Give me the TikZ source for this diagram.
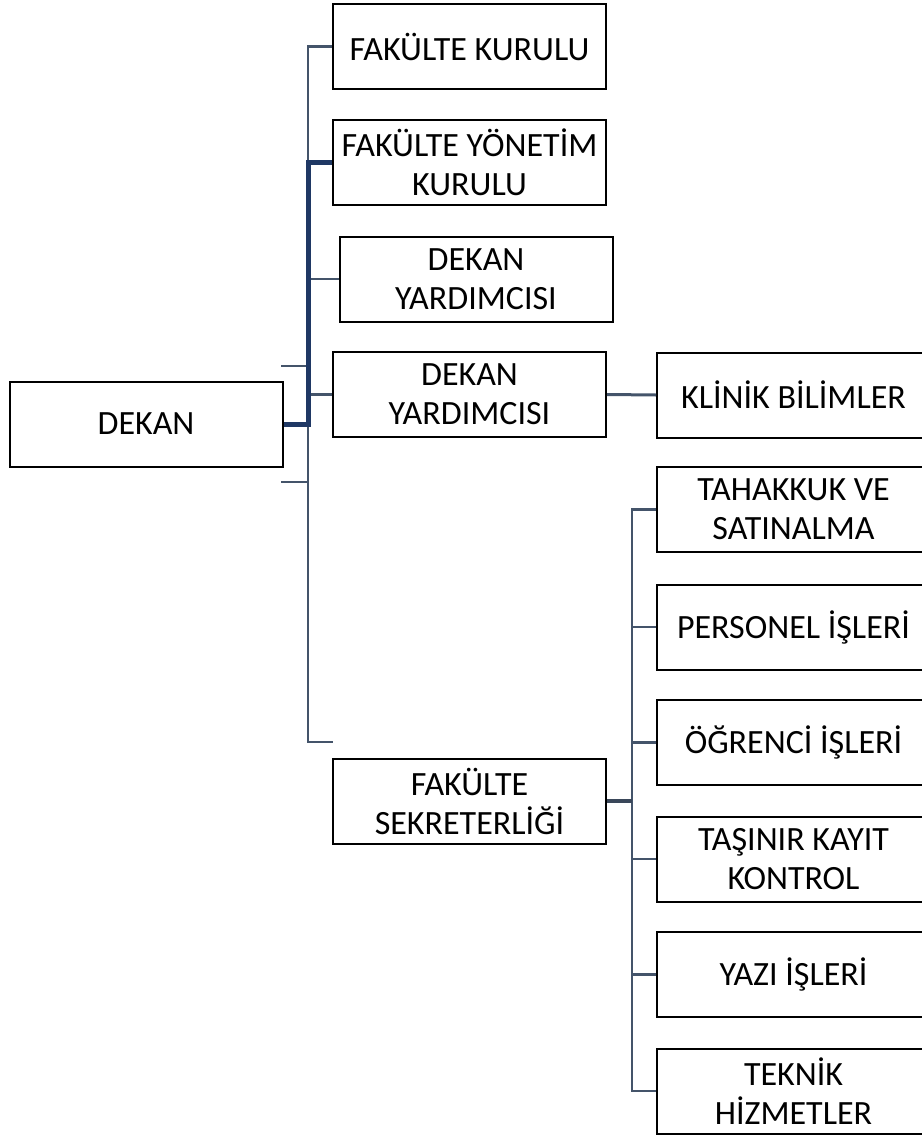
\documentclass[tikz,border=0pt]{standalone}
\usepackage{fontspec}
\setmainfont{Carlito}
\usepackage{tikz}
\usetikzlibrary{calc, math}
\definecolor{linkcolor}{RGB}{68,84,106}
\definecolor{trunkcolor}{RGB}{31,56,100}

\begin{document}
\begin{tikzpicture}[x=1pt, y=-1pt,
    orgbox/.style={draw=black, line width=2pt, fill=white, align=center,
      minimum width=273pt, minimum height=85pt, inner sep=0pt,
      font=\fontsize{34}{39}\selectfont},
    orgline/.style={color=linkcolor, line width=2.5pt},
    mainline/.style={color=trunkcolor, line width=5pt},
    subline/.style={color=linkcolor!85!black, line width=4.5pt},
  ]
  \tikzmath{
    \lx=308;
    \rx=632;
    \cx=469.5;
    \rcx=793.5;
  }
  \useasboundingbox (0,0) rectangle (921,1135);

  % Left column and middle column
  \node[orgbox] (dekan) at (146, 424) {DEKAN};
  \node[orgbox] (kurul) at (\cx, 46.5) {FAKÜLTE KURULU};
  \node[orgbox] (yonetim) at (\cx, 162.5) {FAKÜLTE YÖNETİM\\KURULU};
  \node[orgbox] (yard1) at (476, 279) {DEKAN\\YARDIMCISI};
  \node[orgbox] (yard2) at (\cx, 394.5) {DEKAN\\YARDIMCISI};
  \node[orgbox] (sekreter) at (\cx, 801) {FAKÜLTE\\SEKRETERLİĞİ};

  % Right column
  \node[orgbox] (klinik) at (\rcx, 395) {KLİNİK BİLİMLER};
  \node[orgbox] (tahakkuk) at (\rcx, 509.5) {TAHAKKUK VE\\SATINALMA};
  \node[orgbox] (personel) at (\rcx, 627) {PERSONEL İŞLERİ};
  \node[orgbox] (ogrenci) at (\rcx, 742.5) {ÖĞRENCİ İŞLERİ};
  \node[orgbox] (tasinir) at (\rcx, 859) {TAŞINIR KAYIT\\KONTROL};
  \node[orgbox] (yazi) at (\rcx, 974.5) {YAZI İŞLERİ};
  \node[orgbox] (teknik) at (\rcx, 1091) {TEKNİK\\HİZMETLER};

  \coordinate (lbot) at (\lx, 742);
  \coordinate (ljoin) at (\lx, 424);
  \coordinate (sekstub) at (333, 742);
  \coordinate (stubA) at (281, 366);
  \coordinate (stubB) at (281, 482);
  \coordinate (rbot) at (\rx, 1091);

  % Trunk from the dean
  \draw[orgline] (kurul.west) -| (lbot) -- (sekstub);
  \draw[orgline] (yard1.west) -- (yard1.west -| lbot);
  \draw[orgline] (yard2.west) -- (yard2.west -| lbot);
  \draw[orgline] (stubA) -- (stubA -| lbot);
  \draw[orgline] (stubB) -- (stubB -| lbot);
  \draw[mainline] (yonetim.west) -| (ljoin) -- (dekan.east);
  \draw[orgline, line width=3pt] (yard2.east) -- (klinik.west);

  % Trunk from the secretariat
  \draw[orgline] (tahakkuk.west) -| (rbot) -- (teknik.west);
  \draw[orgline] (personel.west) -- (personel.west -| rbot);
  \draw[orgline] (ogrenci.west) -- (ogrenci.west -| rbot);
  \draw[orgline] (tasinir.west) -- (tasinir.west -| rbot);
  \draw[orgline] (yazi.west) -- (yazi.west -| rbot);
  \draw[subline] (sekreter.east) -- (sekreter.east -| rbot);
\end{tikzpicture}
\end{document}
